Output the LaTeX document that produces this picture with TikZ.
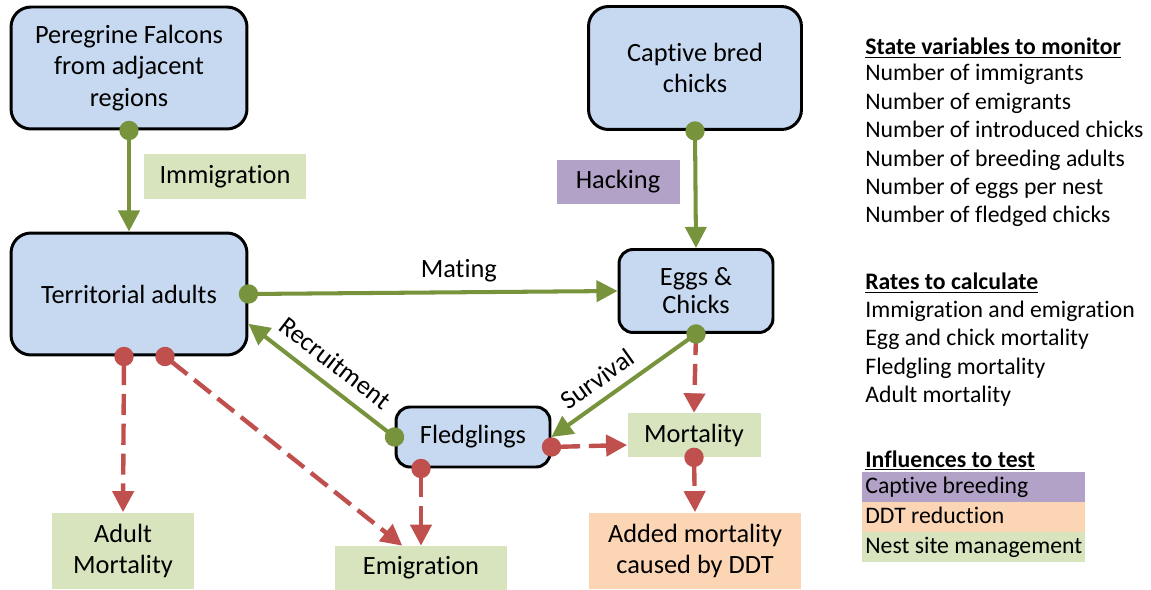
\documentclass[tikz,border=0pt]{standalone}
\usepackage{fontspec}
\setmainfont{Carlito}[Ligatures=NoCommon]
\usetikzlibrary{arrows.meta,calc}
\definecolor{boxblue}{RGB}{198,217,240}
\definecolor{arrgreen}{RGB}{119,147,60}
\definecolor{arrred}{RGB}{192,80,77}
\definecolor{lblgreen}{RGB}{215,228,189}
\definecolor{lblpurple}{RGB}{179,162,199}
\definecolor{lblorange}{RGB}{252,213,181}

\tikzset{
	stock/.style={draw=black, line width=1.7pt, fill=boxblue, rounded corners=0.4cm, align=center, font=\fontsize{15}{18}\selectfont},
	tag/.style={fill=#1, align=center, inner sep=0pt, font=\fontsize{15}{18}\selectfont},
	flow/.style={draw=arrgreen, line width=2.3pt, -{Triangle[width=12pt,length=12pt]}},
	loss/.style={draw=arrred, line width=2.5pt, dash pattern=on 12pt off 5pt, -{Triangle[width=12pt,length=11pt]}},
	knob/.style={{Circle[length=11pt]}-{Triangle[width=12pt,length=12pt]}, shorten <=-5.5pt},
	edgelbl/.style={font=\fontsize{15}{18}\selectfont},
	listtext/.style={anchor=base west, inner sep=0pt, font=\fontsize{13.5}{16}\selectfont}
}

\begin{document}
\begin{tikzpicture}[x=0.02cm, y=-0.02cm]
			%%%%% START %%%%%
			\useasboundingbox (0,0) rectangle (1151,590);
			
			% stocks
			\node[stock, minimum width=4.72cm, minimum height=2.44cm] (falcons) at (129,68) {Peregrine Falcons\\from adjacent\\regions};
			\node[stock, minimum width=4.26cm, minimum height=2.46cm] (captive) at (695,68) {Captive bred\\chicks};
			\node[stock, minimum width=4.72cm, minimum height=2.44cm] (adults) at (129,294) {Territorial adults};
			\node[stock, rounded corners=0.28cm, minimum width=3.08cm, minimum height=1.66cm, font=\fontsize{15}{16}\selectfont] (eggs) at (696,291) {Eggs \&\\Chicks};
			\node[stock, rounded corners=0.28cm, minimum width=3.08cm, minimum height=1.2cm] (fledglings) at (473,437) {Fledglings};
			
			% coloured labels
			\node[tag=lblgreen, minimum width=3.24cm, minimum height=0.9cm] (immig) at (225,177) {Immigration};
			\node[tag=lblpurple, minimum width=2.46cm, minimum height=0.88cm] (hacking) at (618,182) {Hacking};
			\node[tag=lblgreen, minimum width=2.66cm, minimum height=0.88cm] (mortality) at (694,435) {Mortality};
			\node[tag=lblgreen, minimum width=2.84cm, minimum height=1.54cm] (adultmort) at (123,551) {Adult\\Mortality};
			\node[tag=lblgreen, minimum width=3.46cm, minimum height=0.88cm] (emig) at (421,568) {Emigration};
			\node[tag=lblorange, minimum width=4.26cm, minimum height=1.54cm] (ddt) at (695,551) {Added mortality\\caused by DDT};
			
			% losses
			\draw[loss, knob] ([xshift=-0.1cm]adults.south) -- (adultmort.north);
			\draw[loss, knob] ([xshift=0.72cm]adults.south) -- (emig.130);
			\draw[loss, knob] (fledglings.south -| emig.north) -- (emig.north);
			\draw[loss, knob] ([yshift=-0.2cm]fledglings.east) -- ([yshift=-0.2cm]mortality.west);
			\draw[loss] (eggs.south) -- (mortality.north);
			\draw[loss, knob] (mortality.south) -- (ddt.north);
			
			% flows
			\draw[flow, knob] (falcons.south) -- (adults.north);
			\draw[flow, knob] (captive.south) -- (eggs.north);
			\draw[flow, knob] (adults.east) -- (eggs.west) node[edgelbl, pos=0.57, above=1.5pt] (mating) {Mating};
			\draw[flow, knob] (fledglings.west) -- (adults.-14) node[edgelbl, midway, sloped, above=3pt] (recruit) {Recruitment};
			\draw[flow, knob] (eggs.south) -- (fledglings.east) node[edgelbl, pos=0.6, sloped, above=2pt] (survival) {Survival};
			
			% state variables
			\node[listtext] (svhead) at (865,55) {\underline{\textbf{State variables to monitor}}};
			\node[listtext] (sv1) at (865,81) {Number of immigrants};
			\node[listtext] (sv2) at (865,110) {Number of emigrants};
			\node[listtext] (sv3) at (865,138) {Number of introduced chicks};
			\node[listtext] (sv4) at (865,167) {Number of breeding adults};
			\node[listtext] (sv5) at (865,195) {Number of eggs per nest};
			\node[listtext] (sv6) at (865,223) {Number of fledged chicks};
			
			% rates
			\node[listtext] (rthead) at (865,290) {\underline{\textbf{Rates to calculate}}};
			\node[listtext] (rt1) at (865,318) {Immigration and emigration};
			\node[listtext] (rt2) at (865,346) {Egg and chick mortality};
			\node[listtext] (rt3) at (865,375) {Fledgling mortality};
			\node[listtext] (rt4) at (865,403) {Adult mortality};
			
			% influences
			\fill[lblpurple] (862,472) rectangle (1085,502);
			\fill[lblorange] (862,502) rectangle (1085,532);
			\fill[lblgreen] (862,532) rectangle (1085,562);
			\node[listtext] (infhead) at (865,467) {\underline{\textbf{Influences to test}}};
			\node[listtext] (inf1) at (865,493) {Captive breeding};
			\node[listtext] (inf2) at (865,523) {DDT reduction};
			\node[listtext] (inf3) at (865,553) {Nest site management};
			
			%%%%% END %%%%%
\end{tikzpicture}
\end{document}
